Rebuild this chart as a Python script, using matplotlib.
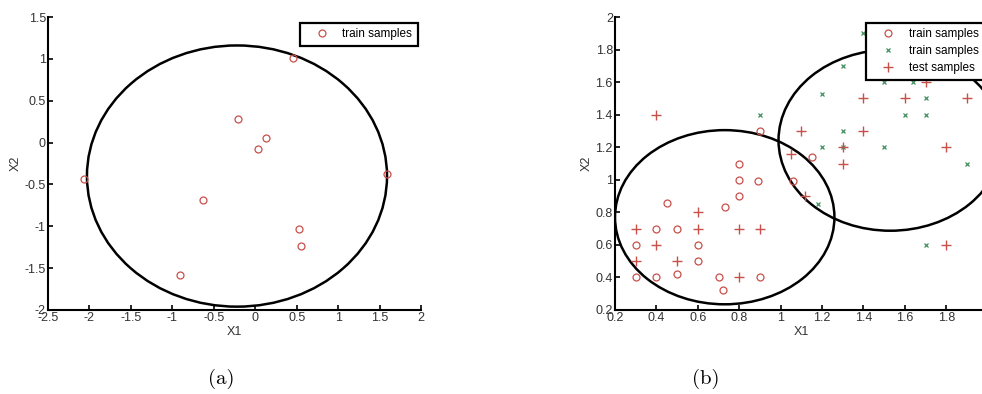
import matplotlib
matplotlib.use("Agg")
import matplotlib.pyplot as plt
from matplotlib.patches import Ellipse

# ---- panel (a): one-class training data and its enclosing boundary ----
a_train_x1 = [0.46, -0.21, 0.125, 0.03, -2.07, 1.59, -0.63, 0.53, 0.55, -0.91]
a_train_x2 = [1.01, 0.285, 0.05, -0.08, -0.43, -0.37, -0.69, -1.03, -1.24, -1.58]
a_boundary = dict(center=(-0.22, -0.40), width=3.62, height=3.12)

# ---- panel (b): two classes of training data plus test samples ----
b_class1_x1 = [0.9, 0.8, 0.8, 0.89, 0.8, 0.45, 0.73, 0.4, 0.5, 0.3, 0.6, 0.6,
               0.3, 0.4, 0.5, 0.7, 0.72, 0.9, 1.06, 1.15]
b_class1_x2 = [1.3, 1.1, 1.0, 0.99, 0.9, 0.86, 0.83, 0.7, 0.7, 0.6, 0.6, 0.5,
               0.4, 0.4, 0.42, 0.4, 0.32, 0.4, 0.99, 1.14]
b_class2_x1 = [1.4, 1.3, 1.2, 0.9, 1.5, 1.64, 1.7, 1.6, 1.7, 1.3, 1.2, 1.5,
               1.3, 1.9, 1.18, 1.7]
b_class2_x2 = [1.9, 1.7, 1.53, 1.4, 1.6, 1.6, 1.5, 1.4, 1.4, 1.3, 1.2, 1.2,
               1.2, 1.1, 0.85, 0.6]
b_test_x1 = [0.4, 1.7, 1.4, 1.6, 1.9, 1.1, 1.4, 1.3, 1.8, 1.05, 1.3, 1.12,
             0.6, 0.3, 0.6, 0.8, 0.9, 0.4, 0.3, 0.5, 0.8, 1.8]
b_test_x2 = [1.4, 1.6, 1.5, 1.5, 1.5, 1.3, 1.3, 1.2, 1.2, 1.16, 1.1, 0.9,
             0.8, 0.7, 0.7, 0.7, 0.7, 0.6, 0.5, 0.5, 0.4, 0.6]
b_boundary1 = dict(center=(0.73, 0.77), width=1.06, height=1.07)
b_boundary2 = dict(center=(1.53, 1.243), width=1.08, height=1.112)

a_xticks = [-2.5, -2, -1.5, -1, -0.5, 0, 0.5, 1, 1.5, 2]
a_yticks = [-2, -1.5, -1, -0.5, 0, 0.5, 1, 1.5]
b_xticks = [0.2, 0.4, 0.6, 0.8, 1, 1.2, 1.4, 1.6, 1.8, 2]
b_yticks = [0.2, 0.4, 0.6, 0.8, 1, 1.2, 1.4, 1.6, 1.8, 2]

RED = "#c8504a"
GREEN = "#3f8f5f"
TXT = "#333333"

plt.rcParams["font.family"] = ["Liberation Sans", "DejaVu Sans"]

fig = plt.figure(figsize=(9.82, 3.94), dpi=100)
ax_a = fig.add_axes([48 / 982, 84 / 394, 373 / 982, 293 / 394])
ax_b = fig.add_axes([615 / 982, 84 / 394, 372.6 / 982, 293 / 394])


def style(ax, xt, yt):
    for side in ("top", "right"):
        ax.spines[side].set_visible(False)
    for side in ("left", "bottom"):
        ax.spines[side].set_linewidth(1.5)
        ax.spines[side].set_color("black")
    ax.set_xticks(xt)
    ax.set_yticks(yt)
    ax.set_xticklabels(["%g" % v for v in xt])
    ax.set_yticklabels(["%g" % v for v in yt])
    ax.tick_params(direction="in", length=3.5, width=1.2, labelsize=9,
                   labelcolor=TXT, pad=1.5, top=False, right=False)
    ax.set_xlabel("X1", fontsize=9, color=TXT, labelpad=1.5)
    ax.set_ylabel("X2", fontsize=9, color=TXT, labelpad=2)


def frame(leg):
    fr = leg.get_frame()
    fr.set_edgecolor("black")
    fr.set_linewidth(1.6)
    fr.set_alpha(1)


leg_kw = dict(fontsize=8.5, frameon=True, fancybox=False, borderpad=0.45,
              labelspacing=0.42, handlelength=2.9, handletextpad=0.25,
              borderaxespad=0, loc="upper left")

# panel (a)
ax_a.plot(a_train_x1, a_train_x2, "o", ls="none", mfc="none", mec=RED,
          ms=5, mew=0.9, label="train samples")
ax_a.add_patch(Ellipse(a_boundary["center"], a_boundary["width"],
                       a_boundary["height"], fill=False, ec="black", lw=1.8))
ax_a.set_xlim(-2.5, 2)
ax_a.set_ylim(-2, 1.5)
style(ax_a, a_xticks, a_yticks)
frame(ax_a.legend(bbox_to_anchor=((300 - 48) / 373, 1 - 6 / 293), **leg_kw))

# panel (b)
ax_b.plot(b_class1_x1, b_class1_x2, "o", ls="none", mfc="none", mec=RED,
          ms=5, mew=0.9, label="train samples")
ax_b.plot(b_class2_x1, b_class2_x2, "x", ls="none", color=GREEN,
          ms=3, mew=0.9, label="train samples")
ax_b.plot(b_test_x1, b_test_x2, "+", ls="none", color=RED,
          ms=6.5, mew=1.0, label="test samples")
for bd in (b_boundary1, b_boundary2):
    ax_b.add_patch(Ellipse(bd["center"], bd["width"], bd["height"],
                           fill=False, ec="black", lw=1.8))
ax_b.set_xlim(0.2, 2)
ax_b.set_ylim(0.2, 2)
style(ax_b, b_xticks, b_yticks)
frame(ax_b.legend(bbox_to_anchor=((866 - 615) / 372.6, 1 - 6 / 293), **leg_kw))

# sub-figure captions
fig.text(221 / 982, 1 - 379 / 394, "(a)", fontsize=15, family="cmr10",
         ha="center", va="center")
fig.text(706 / 982, 1 - 379 / 394, "(b)", fontsize=15, family="cmr10",
         ha="center", va="center")

fig.savefig("out.png", dpi=100)
